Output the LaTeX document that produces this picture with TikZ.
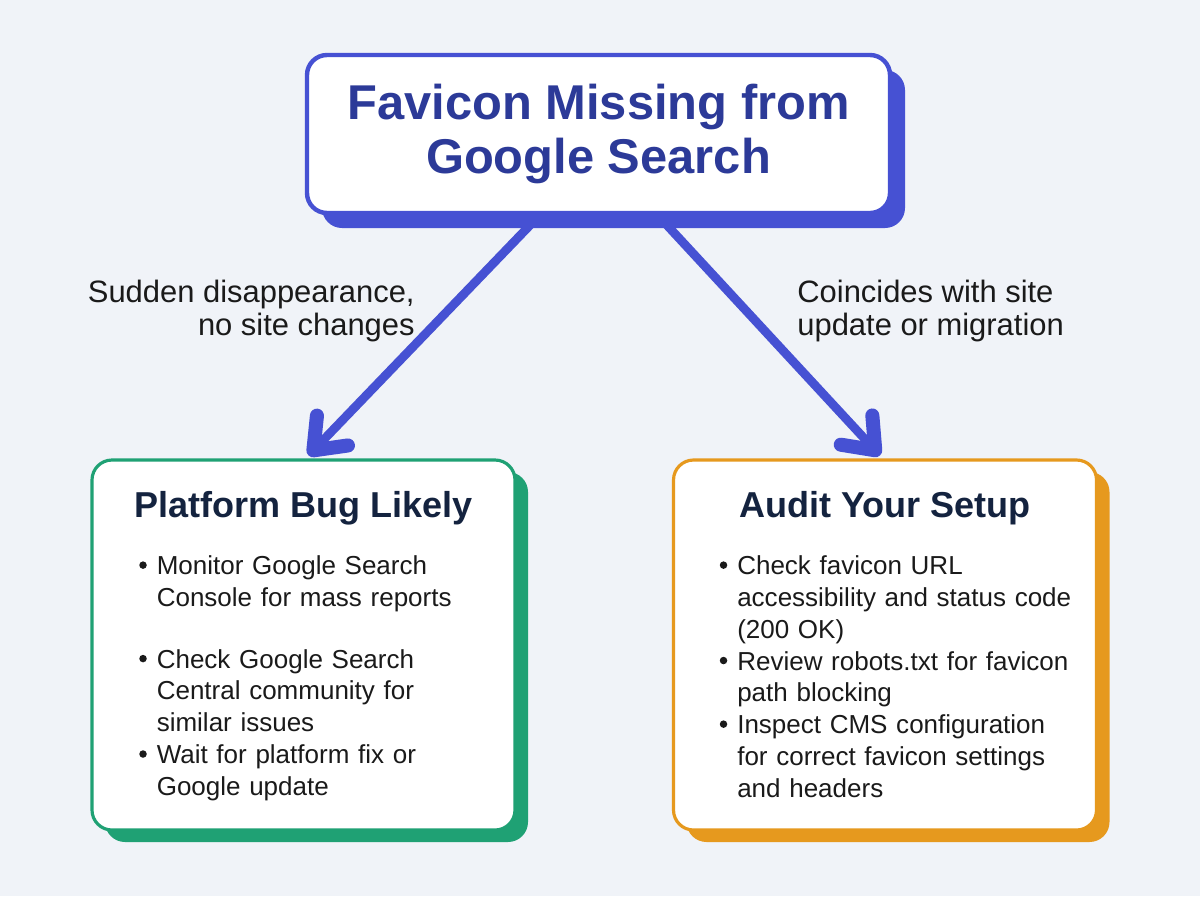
\documentclass[tikz,border=0pt]{standalone}
\usepackage{fontspec}
\setmainfont{Liberation Sans}
\usepackage{enumitem}
\usetikzlibrary{arrows.meta,shadows,positioning}
\definecolor{bgcol}{HTML}{F0F3F8}
\definecolor{blueline}{HTML}{4651D3}
\definecolor{titleblue}{HTML}{2C3A98}
\definecolor{greenline}{HTML}{1FA174}
\definecolor{orangeline}{HTML}{E6991E}
\definecolor{navy}{HTML}{14233F}
\definecolor{bodycol}{HTML}{1A1A1A}
\pgfdeclarelayer{back}
\pgfsetlayers{back,main}
\newcommand{\dotmark}{\raisebox{0.22em}{\tikz\fill (0,0) circle (0.075cm);}}
\setlist[itemize]{label=\dotmark,leftmargin=0.46cm,labelsep=0.2cm,itemsep=0pt,topsep=0pt,parsep=0pt,partopsep=0pt}

\begin{document}
\begin{tikzpicture}[>={Straight Barb[round,length=0.55cm,width=0.86cm,line width=8pt]},
		arrowline/.style={->,draw=blueline,line width=5pt,line cap=round},
		top node/.style={rectangle,rounded corners=0.4cm,draw=blueline,line width=2.5pt,fill=white,
			minimum width=11.66cm,minimum height=3.16cm,align=center,text=titleblue,
			font=\bfseries\fontsize{27.8}{31}\selectfont,
			drop shadow={shadow xshift=0.3cm,shadow yshift=-0.3cm,fill=blueline,opacity=1}},
		case node/.style={rectangle,rounded corners=0.4cm,line width=1.8pt,fill=white,
			minimum width=8.46cm,minimum height=7.4cm},
		case title/.style={font=\bfseries\fontsize{20.5}{24}\selectfont,text=navy,inner sep=0pt},
		case list/.style={text width=8cm,inner sep=0pt,text=bodycol,font=\fontsize{14.8}{18.1}\selectfont},
		edge label/.style={inner sep=0pt,text=bodycol,font=\fontsize{17.6}{18.7}\selectfont}]
		\begin{pgfonlayer}{back}
		\fill[bgcol] (0,0) rectangle (24,-17.92);
		\end{pgfonlayer}
		\useasboundingbox (0,0) rectangle (24,-17.92);
		\node[top node] (top) at (11.97,-2.68) {Favicon Missing from\\Google Search};
		\node[case node,draw=greenline,
			drop shadow={shadow xshift=0.26cm,shadow yshift=-0.24cm,fill=greenline,opacity=1}] (bug) at (6.07,-12.9) {};
		\node[case node,draw=orangeline,
			drop shadow={shadow xshift=0.26cm,shadow yshift=-0.24cm,fill=orangeline,opacity=1}] (audit) at (17.7,-12.9) {};
		\node[case title] (bugtitle) at ([yshift=-1.0cm]bug.north) {Platform Bug Likely};
		\node[case title] (audittitle) at ([yshift=-1.0cm]audit.north) {Audit Your Setup};
		\node[case list,anchor=north west] (buglist) at ([xshift=0.86cm,yshift=-1.68cm]bug.north west) {%
			\begin{itemize}
			\item Monitor Google Search\newline Console for mass reports\vspace{17pt}
			\item Check Google Search\newline Central community for\newline similar issues
			\item Wait for platform fix or\newline Google update
			\end{itemize}};
		\node[case list,anchor=north west] (auditlist) at ([xshift=0.84cm,yshift=-1.68cm]audit.north west) {%
			\begin{itemize}
			\item Check favicon URL\newline accessibility and status code\newline (200 OK)
			\item Review robots.txt for favicon\newline path blocking
			\item Inspect CMS configuration\newline for correct favicon settings\newline and headers
			\end{itemize}};
		\node[edge label,align=right,anchor=east] (nochange) at (8.3,-6.22) {Sudden disappearance,\\no site changes};
		\node[edge label,align=left,anchor=west] (update) at (15.94,-6.22) {Coincides with site\\update or migration};
		\begin{pgfonlayer}{back}
		\draw[arrowline] ([xshift=-1.37cm,yshift=-0.2cm]top.south) -- ([xshift=0.1cm,yshift=0.06cm]bug.north);
		\draw[arrowline] ([xshift=1.37cm,yshift=-0.2cm]top.south) -- ([xshift=-0.1cm,yshift=0.06cm]audit.north);
		\end{pgfonlayer}
		\end{tikzpicture}
\end{document}
